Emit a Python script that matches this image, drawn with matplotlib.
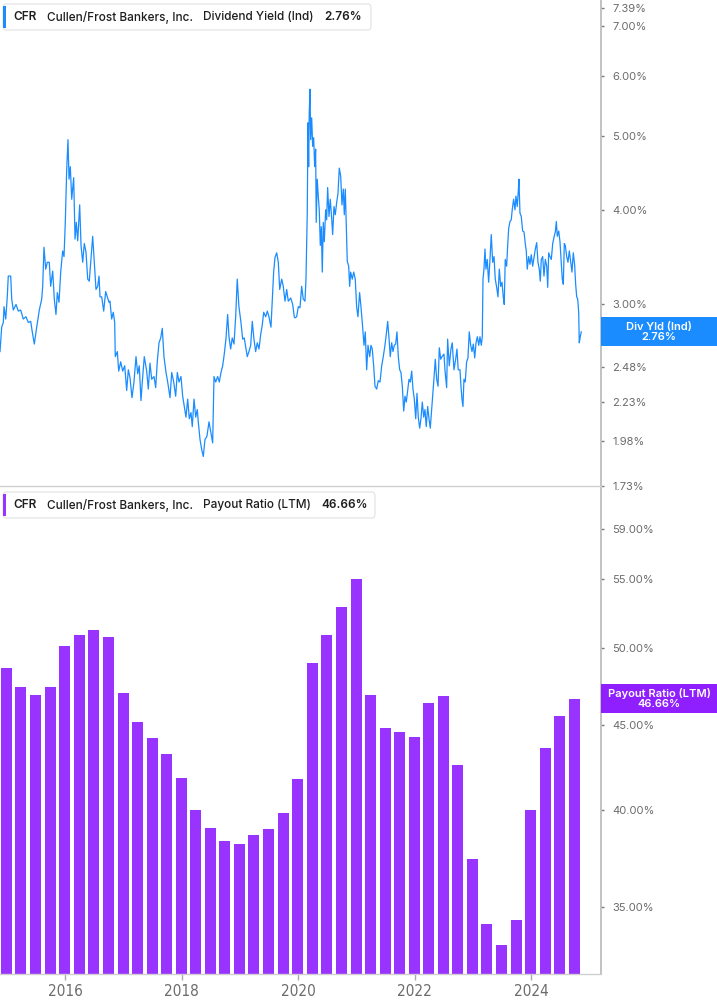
import numpy as np
import pandas as pd
import matplotlib
matplotlib.use("Agg")
import matplotlib.pyplot as plt
import matplotlib.dates as mdates
from matplotlib.patches import Rectangle, FancyBboxPatch
from matplotlib.text import Annotation
from matplotlib.ticker import FixedLocator, NullLocator, FuncFormatter
from matplotlib.transforms import IdentityTransform

plt.rcParams['font.family'] = ['Inter', 'DejaVu Sans']

TICKER = "CFR"
COMPANY = "Cullen/Frost Bankers, Inc."
YIELD_NAME = "Dividend Yield (Ind)"
YIELD_TAG = "Div Yld (Ind)"
PAYOUT_NAME = "Payout Ratio (LTM)"

# dividend yield (%); time as decimal years
yield_years = [
  2014.884, 2014.913, 2014.941, 2014.953, 2014.982, 2015.009, 2015.026, 2015.068, 2015.085, 2015.112,
  2015.159, 2015.198, 2015.239, 2015.284, 2015.330, 2015.370, 2015.411, 2015.438, 2015.473, 2015.514,
  2015.559, 2015.600, 2015.617, 2015.639, 2015.669, 2015.696, 2015.730, 2015.754, 2015.789, 2015.816,
  2015.845, 2015.868, 2015.897, 2015.926, 2015.960, 2015.983, 2016.005, 2016.029, 2016.051, 2016.069,
  2016.091, 2016.115, 2016.149, 2016.172, 2016.194, 2016.218, 2016.252, 2016.275, 2016.304, 2016.331,
  2016.360, 2016.390, 2016.417, 2016.446, 2016.475, 2016.503, 2016.532, 2016.561, 2016.584, 2016.601,
  2016.630, 2016.664, 2016.698, 2016.726, 2016.755, 2016.772, 2016.801, 2016.829, 2016.853, 2016.863,
  2016.898, 2016.922, 2016.956, 2016.990, 2017.025, 2017.059, 2017.087, 2017.116, 2017.150, 2017.184,
  2017.219, 2017.248, 2017.275, 2017.304, 2017.334, 2017.361,
  2017.402, 2017.430, 2017.459, 2017.488, 2017.528, 2017.557, 2017.584, 2017.614, 2017.643, 2017.670,
  2017.699, 2017.734, 2017.763, 2017.803, 2017.832, 2017.866, 2017.900, 2017.928, 2017.957, 2017.991,
  2018.020, 2018.048, 2018.077, 2018.106, 2018.134, 2018.163, 2018.185, 2018.215, 2018.244, 2018.271,
  2018.288, 2018.318, 2018.347, 2018.374, 2018.403, 2018.437, 2018.472, 2018.501, 2018.535, 2018.558,
  2018.587, 2018.621, 2018.649, 2018.678, 2018.707, 2018.734, 2018.763, 2018.792, 2018.815, 2018.844,
  2018.871, 2018.901, 2018.930, 2018.957, 2018.986, 2019.021, 2019.050, 2019.077, 2019.107, 2019.129,
  2019.158, 2019.188, 2019.215, 2019.244, 2019.273, 2019.301, 2019.330, 2019.360, 2019.387, 2019.411,
  2019.445, 2019.473, 2019.502, 2019.536, 2019.558, 2019.582, 2019.605, 2019.634, 2019.662, 2019.686,
  2019.720, 2019.747, 2019.777, 2019.806, 2019.833, 2019.875, 2019.909, 2019.936,
  2019.948, 2019.977, 2020.005, 2020.034, 2020.063, 2020.090, 2020.120, 2020.137, 2020.149, 2020.159,
  2020.171, 2020.183, 2020.193, 2020.206, 2020.218, 2020.235, 2020.252, 2020.269, 2020.286, 2020.303,
  2020.313, 2020.330, 2020.348, 2020.365, 2020.383, 2020.400, 2020.417, 2020.434, 2020.451, 2020.475,
  2020.492, 2020.509, 2020.532, 2020.554, 2020.578, 2020.595, 2020.618, 2020.640, 2020.664, 2020.686,
  2020.709, 2020.733, 2020.755, 2020.778, 2020.795, 2020.812, 2020.829, 2020.846, 2020.870, 2020.887,
  2020.904, 2020.932, 2020.956, 2020.983, 2021.007, 2021.029, 2021.058, 2021.081, 2021.110, 2021.133,
  2021.155, 2021.179, 2021.202, 2021.231, 2021.253, 2021.275, 2021.299, 2021.322, 2021.351, 2021.378,
  2021.408, 2021.437, 2021.464, 2021.493, 2021.516, 2021.540, 2021.562, 2021.584, 2021.608, 2021.631,
  2021.653, 2021.677, 2021.699, 2021.722, 2021.746, 2021.768, 2021.791, 2021.815, 2021.837, 2021.859,
  2021.883, 2021.906, 2021.928, 2021.952, 2021.974, 2021.997, 2022.021, 2022.043, 2022.065, 2022.089,
  2022.111, 2022.134, 2022.158, 2022.180, 2022.202, 2022.226, 2022.249, 2022.271, 2022.295, 2022.312,
  2022.335, 2022.357, 2022.381, 2022.404, 2022.426, 2022.450, 2022.472, 2022.506,
  2022.523, 2022.552, 2022.569, 2022.597, 2022.626, 2022.648, 2022.678, 2022.707, 2022.729, 2022.751,
  2022.781, 2022.798, 2022.815, 2022.832, 2022.849, 2022.871, 2022.895, 2022.918, 2022.940, 2022.965,
  2022.987, 2023.010, 2023.034, 2023.056, 2023.079, 2023.103, 2023.124, 2023.147, 2023.164, 2023.176,
  2023.193, 2023.210, 2023.227, 2023.249, 2023.273, 2023.296, 2023.318, 2023.342, 2023.365, 2023.387,
  2023.411, 2023.433, 2023.456, 2023.480, 2023.502, 2023.524, 2023.541, 2023.558, 2023.582, 2023.600,
  2023.617, 2023.639, 2023.661, 2023.678, 2023.702, 2023.725, 2023.742, 2023.764, 2023.781, 2023.793,
  2023.811, 2023.833, 2023.857, 2023.880, 2023.902, 2023.919, 2023.936, 2023.960, 2023.983, 2024.005,
  2024.029, 2024.051, 2024.074, 2024.098, 2024.120, 2024.142, 2024.160, 2024.177, 2024.201, 2024.223,
  2024.246, 2024.270, 2024.287, 2024.304, 2024.326, 2024.349, 2024.373, 2024.395, 2024.418, 2024.435,
  2024.452, 2024.476, 2024.498, 2024.520, 2024.537, 2024.555, 2024.572, 2024.589, 2024.613, 2024.635,
  2024.658, 2024.682, 2024.704, 2024.726, 2024.750, 2024.767, 2024.785, 2024.802, 2024.819, 2024.829,
  2024.846, 2024.863,
]
yield_values = [
  2.60, 2.80, 2.84, 2.98, 2.87, 3.07, 3.27, 3.27, 3.05, 2.95,
  3.00, 2.94, 2.95, 2.87, 2.89, 2.84, 2.85, 2.76, 2.66, 2.80,
  2.95, 3.05, 3.17, 3.57, 3.34, 3.41, 3.41, 3.17, 3.32, 3.05,
  2.91, 3.11, 3.02, 3.31, 3.53, 3.47, 3.85, 4.52, 4.95, 4.39,
  4.56, 4.13, 4.41, 3.66, 3.85, 3.64, 4.06, 3.59, 3.41, 3.61,
  3.52, 3.24, 3.22, 3.44, 3.69, 3.41, 3.14, 3.17, 3.27, 3.07,
  3.07, 2.94, 3.12, 3.07, 3.02, 3.03, 2.87, 2.93, 2.84, 2.56,
  2.60, 2.45, 2.52, 2.45, 2.49, 2.31, 2.46, 2.40, 2.26, 2.37,
  2.56, 2.43, 2.49, 2.24, 2.41, 2.56,
  2.45, 2.32, 2.51, 2.39, 2.41, 2.33, 2.52, 2.67, 2.71, 2.79,
  2.56, 2.44, 2.37, 2.26, 2.44, 2.37, 2.27, 2.44, 2.37, 2.41,
  2.27, 2.20, 2.13, 2.25, 2.12, 2.16, 2.07, 2.25, 2.13, 2.18,
  2.10, 1.99, 1.93, 1.89, 1.99, 2.01, 2.10, 2.04, 1.97, 2.41,
  2.37, 2.41, 2.37, 2.44, 2.49, 2.58, 2.70, 2.91, 2.72, 2.62,
  2.71, 2.66, 2.89, 3.24, 2.98, 2.84, 2.70, 2.71, 2.62, 2.56,
  2.60, 2.65, 2.85, 2.70, 2.60, 2.67, 2.62, 2.74, 2.82, 2.93,
  2.89, 2.94, 2.89, 2.80, 3.03, 3.31, 3.46, 3.51, 3.41, 3.14,
  3.24, 3.17, 3.03, 3.14, 3.03, 3.06, 3.00, 2.89,
  2.88, 2.89, 2.98, 2.97, 3.17, 3.05, 3.03, 3.24, 3.63, 3.96,
  5.21, 4.56, 5.37, 5.77, 4.95, 5.29, 4.85, 4.98, 4.56, 4.81,
  3.85, 4.39, 4.17, 4.00, 3.59, 3.80, 3.31, 3.85, 3.63, 4.00,
  3.88, 4.28, 3.92, 4.13, 3.90, 3.71, 4.04, 3.94, 4.09, 4.20,
  4.54, 4.43, 4.06, 4.26, 3.94, 4.26, 3.80, 3.42, 3.37, 3.17,
  3.31, 3.24, 3.31, 3.24, 2.98, 2.89, 3.11, 2.98, 2.80, 2.65,
  2.76, 2.46, 2.65, 2.56, 2.65, 2.62, 2.49, 2.34, 2.32, 2.38,
  2.37, 2.49, 2.56, 2.65, 2.74, 2.85, 2.71, 2.56, 2.67, 2.60,
  2.65, 2.66, 2.76, 2.56, 2.46, 2.44, 2.34, 2.17, 2.27, 2.23,
  2.31, 2.39, 2.37, 2.45, 2.32, 2.25, 2.12, 2.29, 2.13, 2.06,
  2.12, 2.23, 2.13, 2.18, 2.07, 2.20, 2.12, 2.06, 2.18, 2.27,
  2.40, 2.54, 2.39, 2.34, 2.63, 2.54, 2.56, 2.58,
  2.46, 2.33, 2.70, 2.49, 2.62, 2.67, 2.46, 2.54, 2.62, 2.46,
  2.46, 2.34, 2.25, 2.20, 2.39, 2.37, 2.52, 2.55, 2.76, 2.65,
  2.60, 2.66, 2.55, 2.67, 2.72, 2.65, 2.72, 2.65, 2.72, 3.24,
  3.34, 3.55, 3.34, 3.44, 3.21, 3.44, 3.71, 3.41, 3.47, 3.24,
  3.16, 3.07, 3.34, 3.17, 3.21, 3.07, 3.00, 3.44, 3.37, 3.59,
  3.78, 3.86, 3.88, 4.00, 4.13, 4.00, 4.17, 4.04, 4.22, 4.39,
  3.96, 3.92, 3.75, 3.74, 3.61, 3.53, 3.34, 3.47, 3.39, 3.49,
  3.37, 3.46, 3.55, 3.62, 3.41, 3.34, 3.22, 3.44, 3.47, 3.27,
  3.44, 3.37, 3.16, 3.51, 3.47, 3.44, 3.61, 3.68, 3.74, 3.86,
  3.69, 3.75, 3.63, 3.41, 3.24, 3.19, 3.61, 3.59, 3.47, 3.41,
  3.53, 3.41, 3.31, 3.51, 3.38, 3.19, 3.07, 3.05, 2.93, 2.67,
  2.72, 2.76,
]

# payout ratio (LTM, %), one bar per quarter, Q4 2014 .. Q3 2024
payout_values = [
  48.64, 47.38, 46.86, 47.38, 50.14, 50.97, 51.26, 50.83,
  46.99, 45.15, 44.16, 43.20, 41.79, 40.00, 39.01, 38.32,
  38.16, 38.63, 38.95, 39.82, 41.73, 49.04, 50.97, 52.91,
  55.07, 46.86, 44.78, 44.53, 44.22, 46.35, 46.80, 42.55,
  37.38, 34.17, 33.19, 34.36, 40.00, 43.56, 45.52, 46.66,
]
payout_quarters = pd.date_range("2014-12-31", periods=len(payout_values), freq=pd.offsets.QuarterEnd())

yield_ticks = [1.73, 1.98, 2.23, 2.48, 3.00, 4.00, 5.00, 6.00, 7.00, 7.39]
payout_ticks = [35, 40, 45, 50, 55, 59]

BLUE = "#1a8cff"
PURPLE = "#9933ff"
PURPLE_TAG = "#8f1fff"
GREY_AXIS = "#bdbdbd"
GREY_TEXT = "#6b6b6b"
W, H = 717, 1005


def year_to_date(t):
  t = np.asarray(t, dtype=float)
  return pd.Timestamp("1970-01-01") + pd.to_timedelta((t - 1970.0) * 365.2425, unit="D")


def px(x, y):
  # pixel (from top-left) -> figure fraction
  return x / W, 1 - y / H


fig = plt.figure(figsize=(W / 100, H / 100), dpi=100)
ax_top = fig.add_axes([0, 1 - 486 / H, 601 / W, 486 / H])
ax_bot = fig.add_axes([0, 1 - 974 / H, 601 / W, (974 - 488) / H], sharex=ax_top)

xmin = year_to_date(2014.884)
xmax = year_to_date(2025.202)

# top: dividend yield line
ax_top.plot(year_to_date(yield_years), yield_values, color=BLUE, lw=0.9)
ax_top.set_yscale("log")
ax_top.set_ylim(1.728, 7.567)
ax_top.set_xlim(xmin, xmax)

# bottom: payout ratio bars
base = 31.9
ax_bot.set_yscale("log")
ax_bot.bar(payout_quarters, np.array(payout_values) - base, bottom=base, width=69, color=PURPLE)
ax_bot.set_ylim(base, 62.4)
ax_bot.set_xlim(xmin, xmax)

for ax, ticks in ((ax_top, yield_ticks), (ax_bot, payout_ticks)):
  ax.yaxis.tick_right()
  ax.yaxis.set_major_locator(FixedLocator(ticks))
  ax.yaxis.set_minor_locator(NullLocator())
  ax.yaxis.set_major_formatter(FuncFormatter(lambda v, p: "{:.2f}%".format(v)))
  ax.tick_params(axis="y", which="both", length=2, width=1, color="#777777", pad=6,
                 labelsize=8, labelcolor=GREY_TEXT)
  for side in ("top", "left"):
    ax.spines[side].set_visible(False)
  ax.spines["right"].set_color(GREY_AXIS)
  ax.spines["right"].set_linewidth(1.3)
  ax.spines["bottom"].set_color("#d0d0d0")
  ax.spines["bottom"].set_linewidth(1.0)
  ax.set_facecolor("none")

ax_top.tick_params(axis="x", which="both", length=0, labelbottom=False)
ax_bot.xaxis.set_major_locator(mdates.YearLocator(2))
ax_bot.xaxis.set_minor_locator(NullLocator())
ax_bot.xaxis.set_major_formatter(mdates.DateFormatter("%Y"))
ax_bot.tick_params(axis="x", length=4, width=1, color="#aaaaaa", pad=3, labelcolor=GREY_TEXT)
for lab in ax_bot.get_xticklabels():
  lab.set_family(["DejaVu Sans"])
  lab.set_fontstretch("condensed")
  lab.set_fontsize(11)


def draw_legend(top_px, right_px, color, name, value):
  x0, y0 = px(3, top_px + 26)
  box = FancyBboxPatch((x0, y0), (right_px - 3) / W, 26 / H,
                       boxstyle="round,pad=0,rounding_size=0.004",
                       transform=fig.transFigure, facecolor="white",
                       edgecolor="#e2e2e2", linewidth=0.8, zorder=5)
  fig.add_artist(box)
  bx, by = px(3, top_px + 24)
  fig.add_artist(Rectangle((bx, by), 3 / W, 22 / H, transform=fig.transFigure,
                           facecolor=color, edgecolor="none", zorder=6))
  tx, ty = px(13, top_px + 13)
  prev = fig.text(tx, ty, TICKER, fontsize=8.5, fontweight="semibold", color="#1e1e1e",
                  va="center", ha="left", zorder=7)
  for s, w in ((COMPANY, "medium"), (name, "medium"), (value, "semibold")):
    ann = Annotation(s, xy=(1, 0.5), xycoords=prev, xytext=(7.5, 0),
                     textcoords="offset points", va="center", ha="left",
                     fontsize=8.5, fontweight=w, color="#1e1e1e",
                     annotation_clip=False, zorder=7)
    fig.add_artist(ann)
    prev = ann


draw_legend(4, 371, BLUE, YIELD_NAME, "{:.2f}%".format(yield_values[-1]))
draw_legend(492, 375, PURPLE, PAYOUT_NAME, "{:.2f}%".format(payout_values[-1]))


def value_tag(ax, value, color, label):
  y = ax.transData.transform((0, value))[1]
  x0 = ax.transAxes.transform((1, 0))[0]
  fig.add_artist(Rectangle((x0, y - 14.5), W - x0, 29, transform=IdentityTransform(),
                           facecolor=color, edgecolor="none", zorder=6))
  fig.text((x0 + W) / 2, y, label + "\n" + "{:.2f}%".format(value), transform=IdentityTransform(),
           ha="center", va="center", color="white", fontsize=8, fontweight="semibold",
           linespacing=1.05, zorder=7)


value_tag(ax_top, yield_values[-1], BLUE, YIELD_TAG)
value_tag(ax_bot, payout_values[-1], PURPLE_TAG, PAYOUT_NAME)

fig.savefig("out.png", dpi=100, facecolor="white")
